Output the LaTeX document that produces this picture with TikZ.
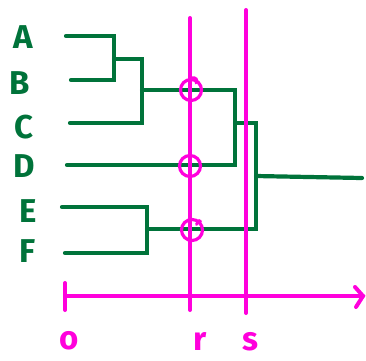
\documentclass[tikz,border=0pt]{standalone}
\usepackage{fontspec}
\setmainfont{Fira Sans}
\definecolor{treegreen}{RGB}{0,115,58}
\definecolor{cutpink}{RGB}{255,0,220}
\begin{document}
\begin{tikzpicture}[x=1pt,y=-1pt,
  tree/.style={draw=treegreen,line width=4.2pt,line cap=round},
  cut/.style={draw=cutpink,line width=4pt,line cap=round},
  leaf/.style={text=treegreen,inner sep=0pt,font=\fontsize{33}{33}\selectfont\bfseries},
  axlabel/.style={text=cutpink,inner sep=0pt,font=\fontsize{33}{33}\selectfont\bfseries},
  hit/.style={circle,draw=cutpink,line width=3.2pt,minimum size=21pt,inner sep=0pt}]
\useasboundingbox (0,0) rectangle (366,360);

% leaf labels
\node[leaf] (A) at (23,37) {A};
\node[leaf] (B) at (20,83) {B};
\node[leaf] (C) at (24,127) {C};
\node[leaf] (D) at (24,166) {D};
\node[leaf] (E) at (28,211) {E};
\node[leaf] (F) at (28,251) {F};

% leaf ends and merge points
\coordinate (a) at (66,36);
\coordinate (b) at (71,80);
\coordinate (c) at (70,123);
\coordinate (d) at (67,165);
\coordinate (e) at (62,207);
\coordinate (f) at (65,253);
\coordinate (ab) at (114,59);
\coordinate (abc) at (142,90);
\coordinate (abcd) at (235,123);
\coordinate (ef) at (147,229);
\coordinate (root) at (256,176);
\coordinate (stem) at (362,178);

% dendrogram
\draw[tree] (a) -| (ab) |- (b);
\draw[tree] (ab) -| (abc) |- (c);
\draw[tree] (abc) -| (abcd) |- (d);
\draw[tree] (e) -| (ef) |- (f);
\draw[tree] (abcd) -| (root) |- (ef);
\draw[tree] (root) -- (stem);

% cut levels and axis
\coordinate (rtop) at (190,18);
\coordinate (rbot) at (190,310);
\coordinate (stop) at (246,10);
\coordinate (sbot) at (246,313);
\coordinate (origin) at (65,296);
\coordinate (tip) at (363,296);
\coordinate (tick0) at (65,283);
\coordinate (tick1) at (65,310);

\draw[cut] (rtop) -- (rbot);
\draw[cut] (stop) -- (sbot);
\draw[cut] (origin) -- (tip);
\draw[cut] (tick0) -- (tick1);
\draw[cut] ([shift={(-8,-9)}]tip) -- (tip) -- ([shift={(-7,11)}]tip);

% clusters cut at level r
\node[hit] (h1) at (191,90) {};
\node[hit] (h2) at (190,166) {};
\node[hit] (h3) at (192,230) {};
% small hooks where the loops were started
\draw[cutpink,line width=3pt,line cap=round] (h1.north) .. controls ++(5,-1) and ++(2,-3) .. ++(5,5);
\draw[cutpink,line width=3pt,line cap=round] (h3.north east) .. controls ++(-2,-2) and ++(1,-2) .. ++(-4,3);

% axis labels
\node[axlabel] (o) at (69,341) {o};
\node[axlabel] (r) at (200,341) {r};
\node[axlabel] (s) at (250,342) {s};
\end{tikzpicture}
\end{document}
